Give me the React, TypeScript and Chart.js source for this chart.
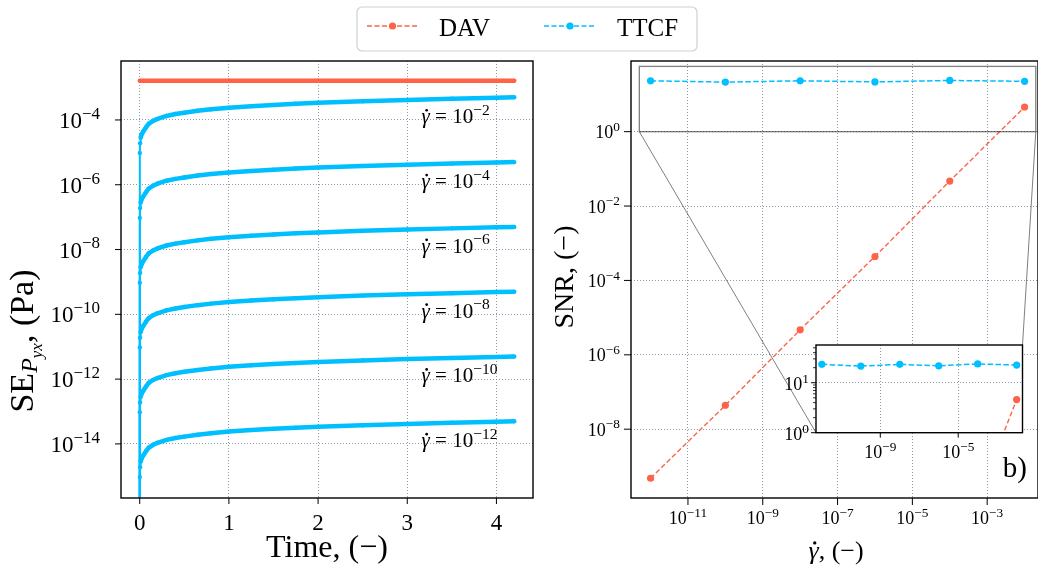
import React, { useEffect, useRef } from 'react';
import { Chart, registerables } from 'chart.js';

Chart.register(...registerables);

const W = 1038;
const H = 576;
const FONT = "'Liberation Serif', 'Times New Roman', 'DejaVu Serif', serif";
const RED = '#ff6347';
const BLUE = '#00bfff';
const GRID_COLOR = 'rgba(112,128,150,0.8)';
const GRID_DASH = [1, 2];

// ---------------- Left panel: SE of P_yx versus time ----------------
const TIME = [0, 0.001, 0.004, 0.01, 0.02, 0.04, 0.07, 0.1, 0.15, 0.2, 0.3, 0.4, 0.5, 0.65, 0.8, 1.0, 1.25, 1.5, 1.75, 2.0, 2.5, 3.0, 3.5, 4.0, 4.2];
const SE_TTCF_1E_2 = [1e-20, 9.5e-6, 1.9e-5, 2.8e-5, 3.5e-5, 4.4e-5, 5.9e-5, 7.6e-5, 9.4e-5, 1.08e-4, 1.33e-4, 1.52e-4, 1.68e-4, 1.92e-4, 2.14e-4, 2.4e-4, 2.67e-4, 2.92e-4, 3.16e-4, 3.38e-4, 3.78e-4, 4.15e-4, 4.5e-4, 4.85e-4, 5.0e-4];
const SE_TTCF_1E_4 = [1e-20, 9.5e-8, 1.9e-7, 2.8e-7, 3.5e-7, 4.4e-7, 5.9e-7, 7.6e-7, 9.4e-7, 1.08e-6, 1.33e-6, 1.52e-6, 1.68e-6, 1.92e-6, 2.14e-6, 2.4e-6, 2.67e-6, 2.92e-6, 3.16e-6, 3.38e-6, 3.78e-6, 4.15e-6, 4.5e-6, 4.85e-6, 5.0e-6];
const SE_TTCF_1E_6 = [1e-20, 9.5e-10, 1.9e-9, 2.8e-9, 3.5e-9, 4.4e-9, 5.9e-9, 7.6e-9, 9.4e-9, 1.08e-8, 1.33e-8, 1.52e-8, 1.68e-8, 1.92e-8, 2.14e-8, 2.4e-8, 2.67e-8, 2.92e-8, 3.16e-8, 3.38e-8, 3.78e-8, 4.15e-8, 4.5e-8, 4.85e-8, 5.0e-8];
const SE_TTCF_1E_8 = [1e-20, 9.5e-12, 1.9e-11, 2.8e-11, 3.5e-11, 4.4e-11, 5.9e-11, 7.6e-11, 9.4e-11, 1.08e-10, 1.33e-10, 1.52e-10, 1.68e-10, 1.92e-10, 2.14e-10, 2.4e-10, 2.67e-10, 2.92e-10, 3.16e-10, 3.38e-10, 3.78e-10, 4.15e-10, 4.5e-10, 4.85e-10, 5.0e-10];
const SE_TTCF_1E_10 = [1e-20, 9.5e-14, 1.9e-13, 2.8e-13, 3.5e-13, 4.4e-13, 5.9e-13, 7.6e-13, 9.4e-13, 1.08e-12, 1.33e-12, 1.52e-12, 1.68e-12, 1.92e-12, 2.14e-12, 2.4e-12, 2.67e-12, 2.92e-12, 3.16e-12, 3.38e-12, 3.78e-12, 4.15e-12, 4.5e-12, 4.85e-12, 5.0e-12];
const SE_TTCF_1E_12 = [1e-20, 9.5e-16, 1.9e-15, 2.8e-15, 3.5e-15, 4.4e-15, 5.9e-15, 7.6e-15, 9.4e-15, 1.08e-14, 1.33e-14, 1.52e-14, 1.68e-14, 1.92e-14, 2.14e-14, 2.4e-14, 2.67e-14, 2.92e-14, 3.16e-14, 3.38e-14, 3.78e-14, 4.15e-14, 4.5e-14, 4.85e-14, 5.0e-14];
const TTCF_CURVES = [SE_TTCF_1E_2, SE_TTCF_1E_4, SE_TTCF_1E_6, SE_TTCF_1E_8, SE_TTCF_1E_10, SE_TTCF_1E_12];
const DAV_TIME = [0, 1, 2, 3, 4, 4.2];
const SE_DAV = [1.63e-3, 1.63e-3, 1.63e-3, 1.63e-3, 1.63e-3, 1.63e-3];
const ANNOT_RATE = [1e-2, 1e-4, 1e-6, 1e-8, 1e-10, 1e-12];
const ANNOT_T = 3.16;
const ANNOT_SE = [7.9e-5, 7.9e-7, 7.9e-9, 7.9e-11, 7.9e-13, 7.9e-15];
const LEFT_X_TICKS = [0, 1, 2, 3, 4];
const LEFT_Y_TICKS = [1e-4, 1e-6, 1e-8, 1e-10, 1e-12, 1e-14];
const LEFT_X_RANGE = [-0.21, 4.41];
const LEFT_Y_RANGE = [Math.pow(10, -15.67), Math.pow(10, -2.18)];

// ---------------- Right panel: SNR versus shear rate ----------------
const SHEAR_RATE = [1e-12, 1e-10, 1e-8, 1e-6, 1e-4, 1e-2];
const SNR_DAV = [4.8e-10, 4.4e-8, 4.7e-6, 4.4e-4, 4.7e-2, 4.6];
const SNR_TTCF = [23.3, 21.5, 23.3, 21.8, 23.8, 22.6];
const RIGHT_X_TICKS = [1e-11, 1e-9, 1e-7, 1e-5, 1e-3];
const RIGHT_Y_TICKS = [1, 1e-2, 1e-4, 1e-6, 1e-8];
const RIGHT_X_RANGE = [Math.pow(10, -12.515), Math.pow(10, -1.641)];
const RIGHT_Y_RANGE = [Math.pow(10, -9.85), Math.pow(10, 1.9)];
const INSET_X_TICKS = [1e-9, 1e-5];
const INSET_Y_TICKS = [1, 10];
const INSET_Y_MINOR = [2, 3, 4, 5, 6, 7, 8, 9, 20, 30, 40, 50];
const INSET_X_RANGE = [Math.pow(10, -12.3), Math.pow(10, -1.7)];
const INSET_Y_RANGE = [1, Math.pow(10, 1.755)];

// layout boxes (pixels)
const LEFT_AREA = { left: 121, top: 61, right: 533, bottom: 498 };
const RIGHT_AREA = { left: 631, top: 61, right: 1038, bottom: 498 };
const INSET_AREA = { left: 816, top: 345, right: 1022.5, bottom: 432.7 };

type Run = { t: string; s: number; it?: boolean; dy?: number; dot?: boolean };

function font(s: number, it?: boolean) {
  return `${it ? 'italic ' : ''}${s}px ${FONT}`;
}

function runsWidth(ctx: CanvasRenderingContext2D, runs: Run[]) {
  let w = 0;
  for (const r of runs) {
    ctx.font = font(r.s, r.it);
    w += ctx.measureText(r.t).width;
  }
  return w;
}

function drawRuns(ctx: CanvasRenderingContext2D, runs: Run[], x: number, y: number) {
  ctx.textAlign = 'left';
  ctx.textBaseline = 'alphabetic';
  let cx = x;
  for (const r of runs) {
    ctx.font = font(r.s, r.it);
    const w = ctx.measureText(r.t).width;
    ctx.fillText(r.t, cx, y + (r.dy || 0));
    if (r.dot) {
      ctx.beginPath();
      ctx.arc(cx + w * 0.62, y + (r.dy || 0) - r.s * 0.62, r.s * 0.065, 0, Math.PI * 2);
      ctx.fill();
    }
    cx += w;
  }
}

function drawAligned(ctx: CanvasRenderingContext2D, runs: Run[], x: number, y: number, align: 'left' | 'center' | 'right') {
  const w = runsWidth(ctx, runs);
  const sx = align === 'left' ? x : align === 'center' ? x - w / 2 : x - w;
  drawRuns(ctx, runs, sx, y);
}

function pow10Runs(v: number, s: number): Run[] {
  const e = Math.round(Math.log10(v));
  return [
    { t: '10', s },
    { t: e < 0 ? '\u2212' + String(-e) : String(e), s: s * 0.74, dy: -s * 0.4 },
  ];
}

function seg(ctx: CanvasRenderingContext2D, x1: number, y1: number, x2: number, y2: number) {
  ctx.beginPath();
  ctx.moveTo(x1, y1);
  ctx.lineTo(x2, y2);
  ctx.stroke();
}

function frame(ctx: CanvasRenderingContext2D, a: any) {
  ctx.strokeStyle = '#000';
  ctx.lineWidth = 1.4;
  ctx.setLineDash([]);
  ctx.strokeRect(a.left, a.top, a.right - a.left, a.bottom - a.top);
}

function drawLegend(ctx: CanvasRenderingContext2D) {
  const x0 = 357, y0 = 7, x1 = 697, y1 = 51, r = 5;
  ctx.beginPath();
  ctx.moveTo(x0 + r, y0);
  ctx.arcTo(x1, y0, x1, y1, r);
  ctx.arcTo(x1, y1, x0, y1, r);
  ctx.arcTo(x0, y1, x0, y0, r);
  ctx.arcTo(x0, y0, x1, y0, r);
  ctx.closePath();
  ctx.fillStyle = 'rgba(255,255,255,0.9)';
  ctx.fill();
  ctx.strokeStyle = '#d0d0d0';
  ctx.lineWidth = 1.2;
  ctx.setLineDash([]);
  ctx.stroke();
  const items = [
    { label: 'DAV', color: RED, lx0: 367, lx1: 418, tx: 439 },
    { label: 'TTCF', color: BLUE, lx0: 544, lx1: 596, tx: 617 },
  ];
  for (const it of items) {
    ctx.strokeStyle = it.color;
    ctx.lineWidth = 1.4;
    ctx.setLineDash([5, 2.5]);
    seg(ctx, it.lx0, 26, it.lx1, 26);
    ctx.setLineDash([]);
    ctx.fillStyle = it.color;
    ctx.beginPath();
    ctx.arc((it.lx0 + it.lx1) / 2, 26, 3.6, 0, Math.PI * 2);
    ctx.fill();
    ctx.fillStyle = '#000';
    drawRuns(ctx, [{ t: it.label, s: 25 }], it.tx, 36);
  }
}

const leftDecor = {
  id: 'leftDecor',
  afterDraw(chart: any) {
    const ctx: CanvasRenderingContext2D = chart.ctx;
    const a = chart.chartArea;
    const xs = chart.scales.x;
    const ys = chart.scales.y;
    ctx.save();
    frame(ctx, a);
    ctx.lineWidth = 1;
    ctx.fillStyle = '#000';
    for (const v of LEFT_X_TICKS) {
      const px = xs.getPixelForValue(v);
      seg(ctx, px, a.bottom, px, a.bottom + 6);
      drawAligned(ctx, [{ t: String(v), s: 23 }], px, a.bottom + 32, 'center');
    }
    for (const v of LEFT_Y_TICKS) {
      const py = ys.getPixelForValue(v);
      seg(ctx, a.left - 6, py, a.left, py);
      drawAligned(ctx, pow10Runs(v, 23), a.left - 21, py + 8, 'right');
    }
    // annotations
    ANNOT_RATE.forEach((rate, i) => {
      const px = xs.getPixelForValue(ANNOT_T);
      const py = ys.getPixelForValue(ANNOT_SE[i]);
      drawRuns(ctx, [{ t: '\u03b3', s: 21, it: true, dot: true }, { t: ' = ', s: 21 }, ...pow10Runs(rate, 21)], px, py);
    });
    // axis labels
    drawAligned(ctx, [{ t: 'Time, (\u2212)', s: 32 }], (a.left + a.right) / 2, 557, 'center');
    ctx.save();
    ctx.translate(33, 341);
    ctx.rotate(-Math.PI / 2);
    const yl: Run[] = [
      { t: 'SE', s: 34 },
      { t: 'P', s: 24, it: true, dy: 4 },
      { t: 'yx', s: 17, it: true, dy: 9 },
      { t: ', (Pa)', s: 34 },
    ];
    drawAligned(ctx, yl, 0, 0, 'center');
    ctx.restore();
    drawLegend(ctx);
    ctx.restore();
  },
};

const rightDecor = {
  id: 'rightDecor',
  afterDraw(chart: any) {
    const ctx: CanvasRenderingContext2D = chart.ctx;
    const a = chart.chartArea;
    const xs = chart.scales.x;
    const ys = chart.scales.y;
    ctx.save();
    frame(ctx, a);
    ctx.lineWidth = 1;
    ctx.fillStyle = '#000';
    for (const v of RIGHT_X_TICKS) {
      const px = xs.getPixelForValue(v);
      seg(ctx, px, a.bottom, px, a.bottom + 7);
      drawAligned(ctx, pow10Runs(v, 18), px, a.bottom + 26, 'center');
    }
    for (const v of RIGHT_Y_TICKS) {
      const py = ys.getPixelForValue(v);
      seg(ctx, a.left - 7, py, a.left, py);
      drawAligned(ctx, pow10Runs(v, 18), a.left - 11, py + 6.5, 'right');
    }
    // zoom indicator rectangle and connectors
    const rx0 = xs.getPixelForValue(INSET_X_RANGE[0]);
    const rx1 = xs.getPixelForValue(INSET_X_RANGE[1]);
    const ry0 = ys.getPixelForValue(INSET_Y_RANGE[1]);
    const ry1 = ys.getPixelForValue(INSET_Y_RANGE[0]);
    ctx.strokeStyle = 'rgba(0,0,0,0.5)';
    ctx.lineWidth = 1.3;
    ctx.strokeRect(rx0, ry0, rx1 - rx0, ry1 - ry0);
    ctx.lineWidth = 1;
    seg(ctx, rx0, ry1, INSET_AREA.left, INSET_AREA.bottom);
    seg(ctx, rx1, ry1, INSET_AREA.right, INSET_AREA.top);
    // labels
    ctx.fillStyle = '#000';
    drawAligned(ctx, [{ t: 'b)', s: 29 }], 1027, 477, 'right');
    drawAligned(ctx, [{ t: '\u03b3', s: 26, it: true, dot: true }, { t: ', (\u2212)', s: 26 }], 836, 559, 'center');
    ctx.save();
    ctx.translate(573, 277);
    ctx.rotate(-Math.PI / 2);
    drawAligned(ctx, [{ t: 'SNR, (\u2212)', s: 28 }], 0, 0, 'center');
    ctx.restore();
    ctx.restore();
  },
};

const insetDecor = {
  id: 'insetDecor',
  beforeDraw(chart: any) {
    const ctx: CanvasRenderingContext2D = chart.ctx;
    const a = chart.chartArea;
    ctx.save();
    ctx.fillStyle = '#fff';
    ctx.fillRect(a.left, a.top, a.right - a.left, a.bottom - a.top);
    ctx.restore();
  },
  afterDraw(chart: any) {
    const ctx: CanvasRenderingContext2D = chart.ctx;
    const a = chart.chartArea;
    const xs = chart.scales.x;
    const ys = chart.scales.y;
    ctx.save();
    frame(ctx, a);
    ctx.fillStyle = '#000';
    ctx.lineWidth = 1;
    for (const v of INSET_X_TICKS) {
      const px = xs.getPixelForValue(v);
      seg(ctx, px, a.bottom, px, a.bottom + 5);
      drawAligned(ctx, pow10Runs(v, 18), px, a.bottom + 25.6, 'center');
    }
    for (const v of INSET_Y_TICKS) {
      const py = ys.getPixelForValue(v);
      seg(ctx, a.left - 5, py, a.left, py);
      drawAligned(ctx, pow10Runs(v, 18), a.left - 7, py + 7, 'right');
    }
    ctx.lineWidth = 0.8;
    for (const v of INSET_Y_MINOR) {
      const py = ys.getPixelForValue(v);
      seg(ctx, a.left - 3, py, a.left, py);
    }
    ctx.restore();
  },
};

function axis(type: string, range: number[], ticks: number[]) {
  return {
    type,
    min: range[0],
    max: range[1],
    afterBuildTicks: (s: any) => {
      s.ticks = ticks.map((v) => ({ value: v }));
    },
    ticks: { display: false },
    grid: { color: GRID_COLOR, lineWidth: 1, drawTicks: false },
    border: { display: false, dash: GRID_DASH },
  };
}

function pad(area: { left: number; top: number; right: number; bottom: number }) {
  return { left: area.left, top: area.top, right: W - area.right, bottom: H - area.bottom };
}

function baseOptions(area: any, xAxis: any, yAxis: any) {
  return {
    responsive: false,
    animation: false as const,
    events: [] as any[],
    layout: { padding: pad(area), autoPadding: false },
    plugins: { legend: { display: false }, tooltip: { enabled: false } },
    scales: { x: xAxis, y: yAxis },
  };
}

function leftConfig(): any {
  const ttcf = TTCF_CURVES.map((arr) => ({
    label: 'TTCF',
    data: TIME.map((t, i) => ({ x: t, y: arr[i] })),
    borderColor: BLUE,
    backgroundColor: BLUE,
    borderWidth: 4.5,
    pointRadius: 2.2,
    pointBorderWidth: 0,
    pointBackgroundColor: BLUE,
    tension: 0,
    clip: 0,
    segment: { borderWidth: (c: any) => (c.p0DataIndex < 3 ? 2 : 4.5) },
  }));
  const dav = {
    label: 'DAV',
    data: DAV_TIME.map((t, i) => ({ x: t, y: SE_DAV[i] })),
    borderColor: RED,
    backgroundColor: RED,
    borderWidth: 4.5,
    pointRadius: 2.2,
    pointBorderWidth: 0,
    tension: 0,
    clip: 0,
  };
  return {
    type: 'line',
    data: { datasets: [dav, ...ttcf] },
    options: baseOptions(LEFT_AREA, axis('linear', LEFT_X_RANGE, LEFT_X_TICKS), axis('logarithmic', LEFT_Y_RANGE, LEFT_Y_TICKS)),
    plugins: [leftDecor],
  };
}

function snrDatasets(clip: any) {
  return [
    {
      label: 'DAV',
      data: SHEAR_RATE.map((g, i) => ({ x: g, y: SNR_DAV[i] })),
      borderColor: RED,
      backgroundColor: RED,
      borderWidth: 1.4,
      borderDash: [5, 2.5],
      pointRadius: 3.6,
      pointBorderWidth: 0,
      tension: 0,
      clip,
    },
    {
      label: 'TTCF',
      data: SHEAR_RATE.map((g, i) => ({ x: g, y: SNR_TTCF[i] })),
      borderColor: BLUE,
      backgroundColor: BLUE,
      borderWidth: 1.5,
      borderDash: [5.5, 2.4],
      pointRadius: 3.6,
      pointBorderWidth: 0,
      tension: 0,
      clip,
    },
  ];
}

function rightConfig(): any {
  return {
    type: 'line',
    data: { datasets: snrDatasets(undefined) },
    options: baseOptions(RIGHT_AREA, axis('logarithmic', RIGHT_X_RANGE, RIGHT_X_TICKS), axis('logarithmic', RIGHT_Y_RANGE, RIGHT_Y_TICKS)),
    plugins: [rightDecor],
  };
}

function insetConfig(): any {
  return {
    type: 'line',
    data: { datasets: snrDatasets(0) },
    options: baseOptions(INSET_AREA, axis('logarithmic', INSET_X_RANGE, INSET_X_TICKS), axis('logarithmic', INSET_Y_RANGE, [10])),
    plugins: [insetDecor],
  };
}

export default function App() {
  const leftRef = useRef<HTMLCanvasElement>(null);
  const rightRef = useRef<HTMLCanvasElement>(null);
  const insetRef = useRef<HTMLCanvasElement>(null);

  useEffect(() => {
    const charts = [
      new Chart(leftRef.current as HTMLCanvasElement, leftConfig()),
      new Chart(rightRef.current as HTMLCanvasElement, rightConfig()),
      new Chart(insetRef.current as HTMLCanvasElement, insetConfig()),
    ];
    return () => charts.forEach((c) => c.destroy());
  }, []);

  const cstyle: React.CSSProperties = { position: 'absolute', left: 0, top: 0, width: W, height: H };
  return (
    <div style={{ position: 'absolute', left: 0, top: 0, width: W, height: H, overflow: 'hidden', background: '#fff' }}>
      <canvas ref={leftRef} width={W} height={H} style={cstyle} />
      <canvas ref={rightRef} width={W} height={H} style={cstyle} />
      <canvas ref={insetRef} width={W} height={H} style={cstyle} />
    </div>
  );
}
